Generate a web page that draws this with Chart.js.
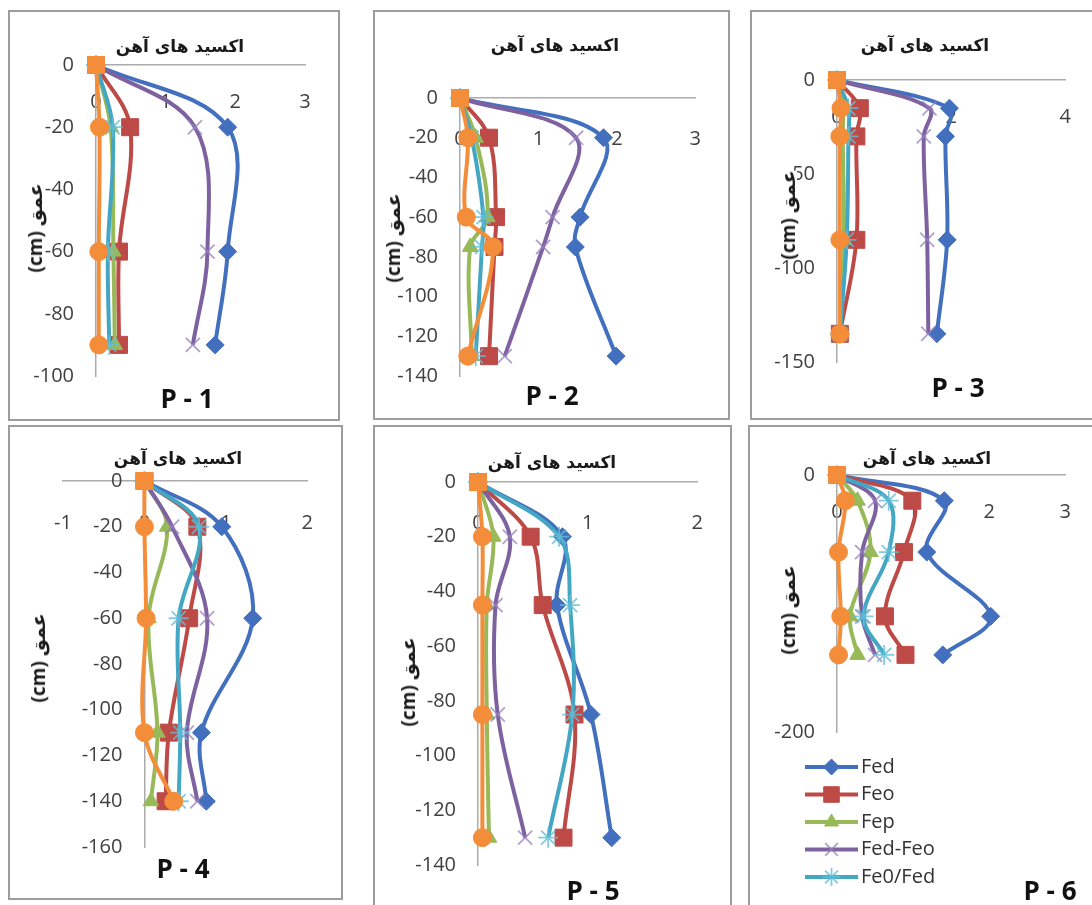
<!DOCTYPE html>
<html>
<head>
<meta charset="utf-8">
<script src="https://cdn.jsdelivr.net/npm/chart.js@4.4.0/dist/chart.umd.min.js"></script>
<style>
body { margin: 0; background: #fff; width: 1092px; height: 905px; position: relative; overflow: hidden; }
.frame { position: absolute; border: 2px solid #9d9d9d; box-sizing: border-box; }
canvas { position: absolute; }
.ttl { position: absolute; font: bold 17px "DejaVu Sans", sans-serif; color: #1a1a1a; transform: translate(-50%, -50%); white-space: nowrap; }
.ylab { position: absolute; font: bold 19px "Open Sans", "DejaVu Sans", sans-serif; color: #1a1a1a; background: #fff; line-height: 18px; transform: translate(-50%, -50%) rotate(-90deg); white-space: nowrap; }
.pl { position: absolute; font: bold 26px "Open Sans", sans-serif; color: #111; transform: translate(-50%, -50%); white-space: nowrap; }
</style>
</head>
<body>
<script>
// series names (last one is the unnamed orange series, not in the legend)
const seriesNames = ['Fed', 'Feo', 'Fep', 'Fed-Feo', 'Fe0/Fed', ''];
const axisTitle = 'اکسید های آهن';
const depthTitle = 'عمق (cm)';

// P - 1
const depthP1 = [0, -20, -60, -90];
const fedP1 = [0, 1.89, 1.89, 1.71];
const feoP1 = [0, 0.49, 0.33, 0.33];
const fepP1 = [0, 0.21, 0.25, 0.27];
const fedFeoP1 = [0, 1.42, 1.60, 1.39];
const ratioP1 = [0, 0.24, 0.17, 0.19];
const otherP1 = [0, 0.05, 0.04, 0.04];

// P - 2
const depthP2 = [0, -20, -60, -75, -130];
const fedP2 = [0, 1.83, 1.53, 1.47, 1.99];
const feoP2 = [0, 0.37, 0.46, 0.44, 0.37];
const fepP2 = [0, 0.20, 0.35, 0.13, 0.15];
const fedFeoP2 = [0, 1.48, 1.18, 1.06, 0.57];
const ratioP2 = [0, 0.15, 0.30, 0.28, 0.20];
const otherP2 = [0, 0.10, 0.08, 0.42, 0.10];

// P - 3
const depthP3 = [0, -15, -30, -85, -135];
const fedP3 = [0, 1.97, 1.90, 1.93, 1.75];
const feoP3 = [0, 0.40, 0.34, 0.34, 0.05];
const fepP3 = [0, 0.10, 0.10, 0.12, 0.05];
const fedFeoP3 = [0, 1.62, 1.52, 1.58, 1.60];
const ratioP3 = [0, 0.20, 0.20, 0.17, 0.05];
const otherP3 = [0, 0.07, 0.05, 0.05, 0.05];

// P - 4
const depthP4 = [0, -20, -60, -110, -140];
const fedP4 = [0, 0.95, 1.33, 0.70, 0.76];
const feoP4 = [0, 0.65, 0.55, 0.30, 0.26];
const fepP4 = [0, 0.28, 0.05, 0.16, 0.08];
const fedFeoP4 = [0, 0.34, 0.77, 0.52, 0.65];
const ratioP4 = [0, 0.67, 0.42, 0.44, 0.42];
const otherP4 = [0, 0, 0.02, 0, 0.36];

// P - 5
const depthP5 = [0, -20, -45, -85, -130];
const fedP5 = [0, 0.77, 0.72, 1.03, 1.22];
const feoP5 = [0, 0.48, 0.59, 0.88, 0.78];
const fepP5 = [0, 0.14, 0.08, 0.08, 0.10];
const fedFeoP5 = [0, 0.29, 0.16, 0.18, 0.43];
const ratioP5 = [0, 0.74, 0.84, 0.86, 0.64];
const otherP5 = [0, 0.04, 0.04, 0.04, 0.04];

// P - 6
const depthP6 = [0, -20, -60, -110, -140];
const fedP6 = [0, 1.41, 1.18, 2.02, 1.39];
const feoP6 = [0, 0.99, 0.88, 0.63, 0.90];
const fepP6 = [0, 0.27, 0.44, 0.17, 0.27];
const fedFeoP6 = [0, 0.50, 0.33, 0.33, 0.50];
const ratioP6 = [0, 0.68, 0.68, 0.35, 0.62];
const otherP6 = [0, 0.11, 0.02, 0.05, 0.02];

// styles per series
const lineColors = ['#4270bf', '#bd4a47', '#98b957', '#7e62a0', '#43a7c3', '#f38d3a'];
const markerColors = ['#4270bf', '#bd4a47', '#98b957', 'rgba(150,128,190,0.75)', 'rgba(100,190,215,0.8)', '#f38d3a'];
const markerStyles = ['rectRot', 'rect', 'triangle', 'crossRot', 'star', 'circle'];
const markerSizes = [9, 12, 9, 10, 10, 9];

// panel layout: frame box and plot area in page pixels
const panels = [
  { name: 'P - 1', box: [8, 10, 340, 421], area: [96, 65, 305, 376], x: [0, 3, 1], y: [-100, 20], xPad: 25,
    ttl: [180, 46], ylab: [35, 228], pl: [187, 398],
    depth: depthP1, vals: [fedP1, feoP1, fepP1, fedFeoP1, ratioP1, otherP1] },
  { name: 'P - 2', box: [373, 10, 730, 420], area: [460, 98, 708, 376], x: [0, 3, 1], y: [-140, 20], xPad: 29,
    ttl: [555, 45], ylab: [393, 238], pl: [552, 395],
    depth: depthP2, vals: [fedP2, feoP2, fepP2, fedFeoP2, ratioP2, otherP2] },
  { name: 'P - 3', box: [750, 10, 1096, 420], area: [837, 80, 1080, 362], x: [0, 4, 2], y: [-150, 50], xPad: 25,
    ttl: [925, 45], ylab: [788, 215], pl: [958, 387],
    depth: depthP3, vals: [fedP3, feoP3, fepP3, fedFeoP3, ratioP3, otherP3] },
  { name: 'P - 4', box: [8, 425, 343, 900], area: [63, 481, 310, 847], x: [-1, 2, 1], y: [-160, 20], xPad: 30,
    ttl: [178, 458], ylab: [38, 658], pl: [183, 868],
    depth: depthP4, vals: [fedP4, feoP4, fepP4, fedFeoP4, ratioP4, otherP4] },
  { name: 'P - 5', box: [373, 425, 732, 912], area: [478, 482, 707, 865], x: [0, 2, 1], y: [-140, 20], xPad: 29,
    ttl: [552, 462], ylab: [408, 682], pl: [593, 890],
    depth: depthP5, vals: [fedP5, feoP5, fepP5, fedFeoP5, ratioP5, otherP5] },
  { name: 'P - 6', box: [748, 425, 1096, 912], area: [837, 475, 1082, 732], x: [0, 3, 1], y: [-200, 200], xPad: 25,
    ttl: [927, 458], ylab: [788, 610], pl: [1050, 890], legend: true,
    depth: depthP6, vals: [fedP6, feoP6, fepP6, fedFeoP6, ratioP6, otherP6] }
];

// y labels of an axis placed at x = 0 get no padding in Chart.js, push them left
const yLabelGap = {
  id: 'yLabelGap',
  beforeDraw(chart) {
    const s = chart.scales.y;
    const items = s.getLabelItems(chart.chartArea);
    if (items._moved) return;
    items.forEach(it => { it.options.translation[0] -= 22; });
    items._moved = true;
  }
};

// vertical legend list drawn inside the last panel
const listLegend = {
  id: 'listLegend',
  afterDraw(chart, args, opts) {
    const ctx = chart.ctx;
    chart.data.datasets.forEach((ds, i) => {
      if (!ds.label) return;
      const y = opts.top + i * opts.gap;
      ctx.save();
      ctx.strokeStyle = ds.borderColor;
      ctx.lineWidth = ds.borderWidth;
      ctx.beginPath();
      ctx.moveTo(opts.left, y);
      ctx.lineTo(opts.left + opts.len, y);
      ctx.stroke();
      ctx.fillStyle = ds.pointBackgroundColor;
      ctx.strokeStyle = ds.pointBorderColor;
      ctx.lineWidth = ds.pointBorderWidth;
      Chart.helpers.drawPoint(ctx, { pointStyle: markerStyles[i], radius: ds.pointRadius - 1, rotation: 0, borderWidth: ds.pointBorderWidth }, opts.left + opts.len / 2, y);
      ctx.fillStyle = '#333';
      ctx.font = '20px "Open Sans"';
      ctx.textBaseline = 'middle';
      ctx.textAlign = 'left';
      ctx.fillText(ds.label, opts.left + opts.len + 3, y);
      ctx.restore();
    });
  }
};

function addText(cls, txt, pos, rtl) {
  const d = document.createElement('div');
  d.className = cls;
  if (rtl) d.dir = 'rtl';
  d.textContent = txt;
  d.style.left = pos[0] + 'px';
  d.style.top = pos[1] + 'px';
  document.body.appendChild(d);
}

panels.forEach(p => {
  const [L, T, R, B] = p.box;
  const frame = document.createElement('div');
  frame.className = 'frame';
  Object.assign(frame.style, { left: L + 'px', top: T + 'px', width: (R - L) + 'px', height: (B - T) + 'px' });
  document.body.appendChild(frame);

  const cv = document.createElement('canvas');
  cv.width = R - L; cv.height = B - T;
  Object.assign(cv.style, { left: L + 'px', top: T + 'px', width: (R - L) + 'px', height: (B - T) + 'px' });
  document.body.appendChild(cv);

  const datasets = seriesNames.map((nm, i) => ({
    label: nm,
    data: p.depth.map((d, k) => ({ x: p.vals[i][k], y: d })),
    showLine: true,
    borderColor: lineColors[i],
    borderWidth: 4,
    tension: 0.35,
    pointStyle: i === 5 ? (c => c.dataIndex === 0 ? 'rect' : 'circle') : markerStyles[i],
    pointRadius: i === 5 ? (c => c.dataIndex === 0 ? 12 : 9) : markerSizes[i],
    pointBackgroundColor: markerColors[i],
    pointBorderColor: markerColors[i],
    pointBorderWidth: (i === 3 || i === 4) ? 1.8 : 1,
    clip: false,
    order: 6 - i
  }));

  const [aL, aT, aR, aB] = p.area;
  new Chart(cv, {
    type: 'scatter',
    data: { datasets },
    plugins: p.legend ? [yLabelGap, listLegend] : [yLabelGap],
    options: {
      responsive: false,
      animation: false,
      events: [],
      devicePixelRatio: 1,
      layout: { padding: { left: aL - L, top: aT - T, right: R - aR, bottom: B - aB } },
      plugins: {
        legend: { display: false },
        tooltip: { enabled: false },
        listLegend: { left: 805 - L, top: 767 - T, gap: 27.5, len: 53 }
      },
      scales: {
        x: {
          type: 'linear', min: p.x[0], max: p.x[1], position: { y: 0 },
          afterFit: s => { s.height = 0; },
          grid: { display: true, color: 'rgba(0,0,0,0)', drawTicks: false },
          border: { display: true, color: '#ababab', width: 1.5 },
          ticks: { stepSize: p.x[2], padding: p.xPad, color: '#404040', autoSkip: false, maxRotation: 0,
                   font: { family: 'Open Sans', size: 20 } }
        },
        y: {
          type: 'linear', min: p.y[0], max: 0, position: { x: 0 },
          afterFit: s => { s.width = 0; },
          grid: { display: true, color: 'rgba(0,0,0,0)', drawTicks: false },
          border: { display: true, color: '#ababab', width: 1.5 },
          ticks: { stepSize: p.y[1], padding: 22, color: '#404040', autoSkip: false,
                   font: { family: 'Open Sans', size: 20 } }
        }
      }
    }
  });

  addText('ttl', axisTitle, p.ttl, true);
  addText('ylab', depthTitle, p.ylab, true);
  addText('pl', p.name, p.pl, false);
});
</script>
</body>
</html>
